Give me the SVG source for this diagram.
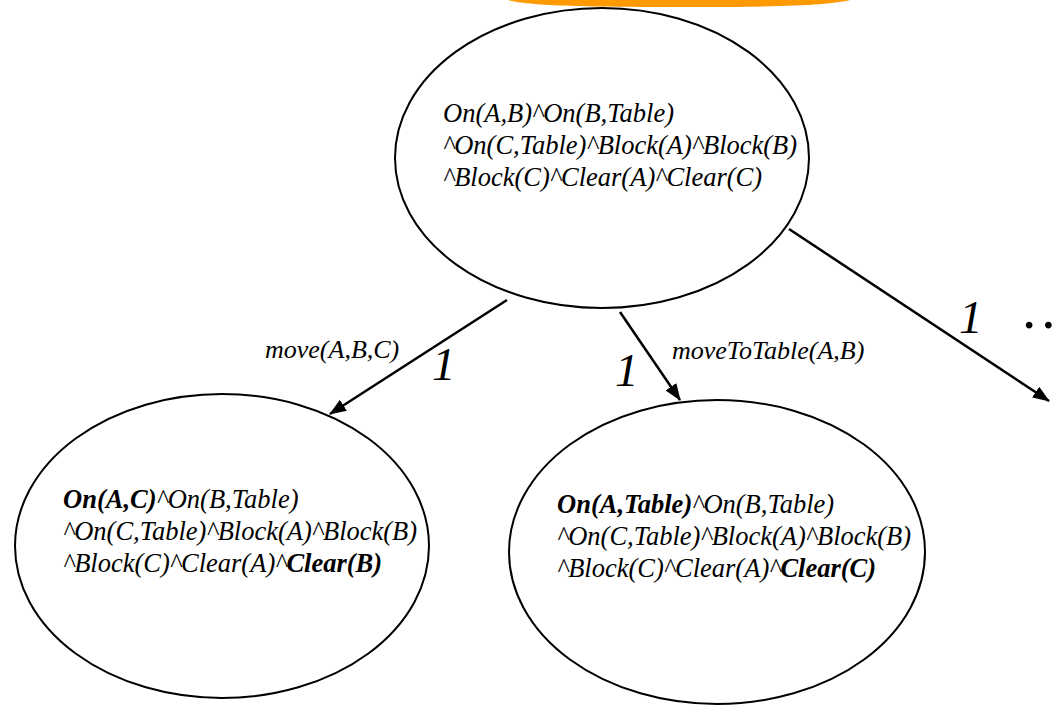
<svg xmlns="http://www.w3.org/2000/svg" width="1064" height="707" viewBox="0 0 1064 707">
<style>
.node{fill:#fff;stroke:#000;stroke-width:2}
.t{font-family:"Liberation Serif","Times New Roman",serif;font-style:italic;font-size:26.5px;fill:#000}
.b{font-weight:bold}
.lbl{font-family:"Liberation Serif","Times New Roman",serif;font-style:italic;font-size:26px;fill:#000}
.cost{font-family:"Liberation Serif","Times New Roman",serif;font-style:italic;font-size:47px;fill:#000}
.dots{font-family:"Liberation Serif","Times New Roman",serif;font-size:57px;letter-spacing:5px;fill:#000}
.edge{stroke:#000;stroke-width:2.5;fill:none}
</style>
<defs>
<marker id="ah" markerUnits="userSpaceOnUse" markerWidth="18" markerHeight="14" refX="16" refY="6.5" orient="auto">
<path d="M0,0 L17,6.5 L0,13 z" fill="#000"/>
</marker>
</defs>
<path d="M508,0 C525,5 570,7 680,7 C790,7 830,5 850,0 Z" fill="#FF9900"/>
<g id="connectors">
<line class="edge" x1="507" y1="300" x2="330" y2="414" marker-end="url(#ah)"/>
<line class="edge" x1="620" y1="312" x2="680" y2="400" marker-end="url(#ah)"/>
<line class="edge" x1="789" y1="229" x2="1049" y2="401" marker-end="url(#ah)"/>
</g>
<g id="node-root">
<ellipse class="node" cx="602" cy="158" rx="207" ry="150"/>
<text class="t" x="443" y="122">On(A,B)^On(B,Table)</text>
<text class="t" x="443" y="154">^On(C,Table)^Block(A)^Block(B)</text>
<text class="t" x="443" y="186">^Block(C)^Clear(A)^Clear(C)</text>
</g>
<g id="node-left">
<ellipse class="node" cx="222" cy="546" rx="207" ry="152"/>
<text class="t" x="63" y="508"><tspan class="b">On(A,C)</tspan>^On(B,Table)</text>
<text class="t" x="63" y="540">^On(C,Table)^Block(A)^Block(B)</text>
<text class="t" x="63" y="572">^Block(C)^Clear(A)^<tspan class="b">Clear(B)</tspan></text>
</g>
<g id="node-right">
<ellipse class="node" cx="717" cy="552" rx="208" ry="152"/>
<text class="t" x="557" y="513"><tspan class="b">On(A,Table)</tspan>^On(B,Table)</text>
<text class="t" x="557" y="545">^On(C,Table)^Block(A)^Block(B)</text>
<text class="t" x="557" y="577">^Block(C)^Clear(A)^<tspan class="b">Clear(C)</tspan></text>
</g>
<g id="labels">
<text class="lbl" x="265" y="358">move(A,B,C)</text>
<text class="lbl" x="672" y="359">moveToTable(A,B)</text>
<text class="cost" x="432" y="380">1</text>
<text class="cost" x="615" y="386">1</text>
<text class="cost" x="959" y="333">1</text>
<text class="dots" x="1022" y="328">..</text>
</g>
</svg>
